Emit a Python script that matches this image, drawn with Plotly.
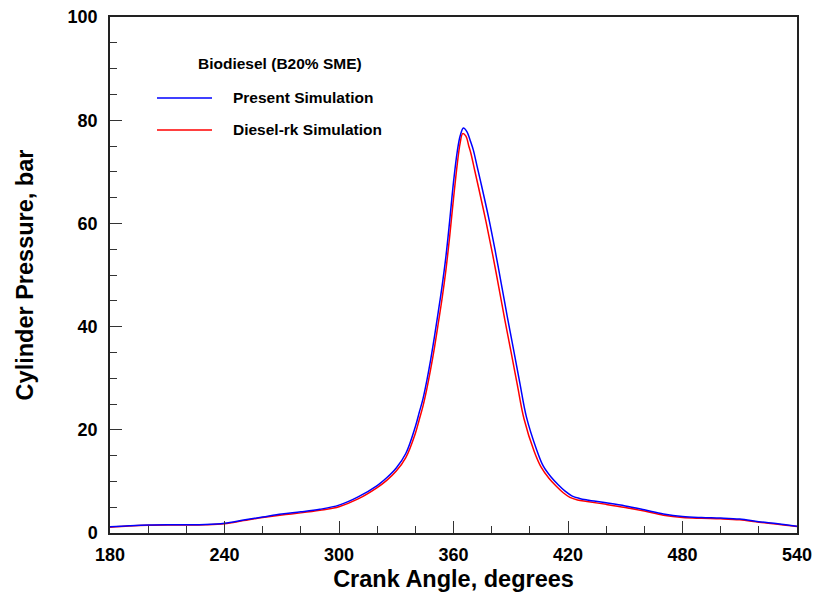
import plotly.graph_objects as go

angle_blue = [180, 190, 200, 210, 220, 230, 240, 250, 260, 270, 280, 290, 300, 310, 320, 325, 330, 335,
              340, 342, 344, 346, 348, 350, 352, 354, 356, 358, 360, 362, 363.5, 365.2, 367, 369, 370.4, 372.4,
              374.4, 378.3, 381.8, 385, 388.2, 391.5, 394.8, 398.2, 403.6, 407, 411, 415, 418.5, 422, 426,
              430, 440, 450, 460, 470, 480, 490, 500, 510, 520, 530, 540]
p_present = [1.2, 1.4, 1.55, 1.6, 1.6, 1.65, 1.9, 2.5, 3.1, 3.7, 4.1, 4.6, 5.4, 7.0, 9.2, 10.7, 12.6, 15.4,
             20.6, 23.3, 26.0, 29.5, 33.5, 38.0, 42.8, 47.8, 53.5, 60.5, 68.0, 74.0, 77.0, 78.5, 77.8, 75.8, 74.2, 71.0,
             67.8, 61.3, 54.8, 48.4, 41.9, 35.5, 29.0, 22.5, 16.1, 13.0, 10.9, 9.3, 8.1, 7.2, 6.7,
             6.4, 5.85, 5.25, 4.5, 3.7, 3.2, 3.0, 2.9, 2.7, 2.2, 1.8, 1.3]

angle_red = [180, 190, 200, 210, 220, 230, 240, 250, 260, 270, 280, 290, 300, 310, 320, 325, 330, 335,
             340, 342, 344, 346, 348, 350, 352, 354, 356, 358, 360, 362, 363.5, 364.8, 366.5, 368, 369.1, 371.1,
             373.1, 377, 380.5, 383.7, 386.9, 390.2, 393.5, 396.9, 402.3, 406, 410, 414, 417.5, 421, 425,
             430, 440, 450, 460, 470, 480, 490, 500, 510, 520, 530, 540]
p_dieselrk = [1.1, 1.35, 1.5, 1.55, 1.55, 1.6, 1.8, 2.4, 3.0, 3.5, 3.9, 4.4, 5.1, 6.6, 8.8, 10.2, 12.0, 14.6,
              19.3, 21.9, 24.6, 27.9, 31.7, 35.9, 40.6, 45.4, 50.9, 57.5, 64.8, 71.6, 75.6, 77.4, 76.9, 75.0, 73.6, 70.3,
              67.0, 60.4, 54.0, 47.7, 41.3, 35.0, 28.6, 22.2, 15.8, 12.7, 10.6, 9.0, 7.8, 6.9, 6.4,
              6.1, 5.55, 4.95, 4.25, 3.45, 3.0, 2.85, 2.75, 2.55, 2.1, 1.7, 1.25]

x_ticks = [180, 240, 300, 360, 420, 480, 540]
y_ticks = [0, 20, 40, 60, 80, 100]
legend_title = "Biodiesel (B20% SME)"
series_names = ["Present Simulation", "Diesel-rk Simulation"]
series_colors = ["#0000ff", "#ff0000"]

FONT = "Liberation Sans, Arial, sans-serif"
W, H = 816, 596
L, R, T, B = 110, 19, 17, 63
PW, PH = W - L - R, H - T - B          # 687 x 516 -> plot area spans x 110..797, y 17..533


def px_x(sx):
    return (sx - L) / PW


def px_y(sy):
    return (H - B - sy) / PH


fig = go.Figure()
fig.add_trace(go.Scatter(x=angle_red, y=p_dieselrk, mode="lines", name=series_names[1],
                         line=dict(color=series_colors[1], width=1.5, shape="spline", smoothing=1.0)))
fig.add_trace(go.Scatter(x=angle_blue, y=p_present, mode="lines", name=series_names[0],
                         line=dict(color=series_colors[0], width=1.5, shape="spline", smoothing=1.0)))

axis_common = dict(
    showline=True, linecolor="#222", linewidth=1.5, mirror=True,
    ticks="inside", ticklen=12, tickwidth=1.2, tickcolor="#333",
    showgrid=False, zeroline=False, automargin=False, ticklabeloverflow="allow",
    tickfont=dict(family=FONT, size=18, color="black", weight="bold"),
)

fig.update_xaxes(range=[180, 540], tickvals=x_ticks, ticktext=[str(v) for v in x_ticks],
                 minor=dict(ticks="inside", ticklen=7, tickwidth=1.2, tickcolor="#333", dtick=20, tick0=180),
                 title=dict(text="Crank Angle, degrees", font=dict(family=FONT, size=23.5, color="black", weight="bold"),
                            standoff=6),
                 ticklabelstandoff=5,
                 **axis_common)
fig.update_yaxes(range=[0, 100], tickvals=y_ticks, ticktext=[str(v) for v in y_ticks],
                 minor=dict(ticks="inside", ticklen=7, tickwidth=1.2, tickcolor="#333", dtick=5, tick0=0),
                 title=dict(text="Cylinder Pressure, bar", font=dict(family=FONT, size=23.5, color="black", weight="bold"),
                            standoff=27),
                 ticklabelstandoff=7,
                 **axis_common)

# manual legend (sample lines + labels)
legend_rows = [(98, series_names[0], series_colors[0]), (130, series_names[1], series_colors[1])]
for sy, name, col in legend_rows:
    fig.add_shape(type="line", xref="paper", yref="paper", x0=px_x(157), x1=px_x(212),
                  y0=px_y(sy), y1=px_y(sy), line=dict(color=col, width=1.5))
    fig.add_annotation(xref="paper", yref="paper", x=px_x(231), y=px_y(sy), text=name, showarrow=False,
                       xanchor="left", yanchor="middle",
                       font=dict(family=FONT, size=15.5, color="black", weight="bold"))
fig.add_annotation(xref="paper", yref="paper", x=px_x(196), y=px_y(63), text=legend_title,
                   showarrow=False, xanchor="left", yanchor="middle",
                   font=dict(family=FONT, size=15.5, color="black", weight="bold"))

fig.update_layout(width=W, height=H, margin=dict(l=L, r=R, t=T, b=B, autoexpand=False),
                  paper_bgcolor="white", plot_bgcolor="white", showlegend=False,
                  font=dict(family=FONT, color="black"))

fig.write_html("out.html", config={"displayModeBar": False},
               post_script="document.body.style.margin='0';document.body.style.overflow='hidden';")
